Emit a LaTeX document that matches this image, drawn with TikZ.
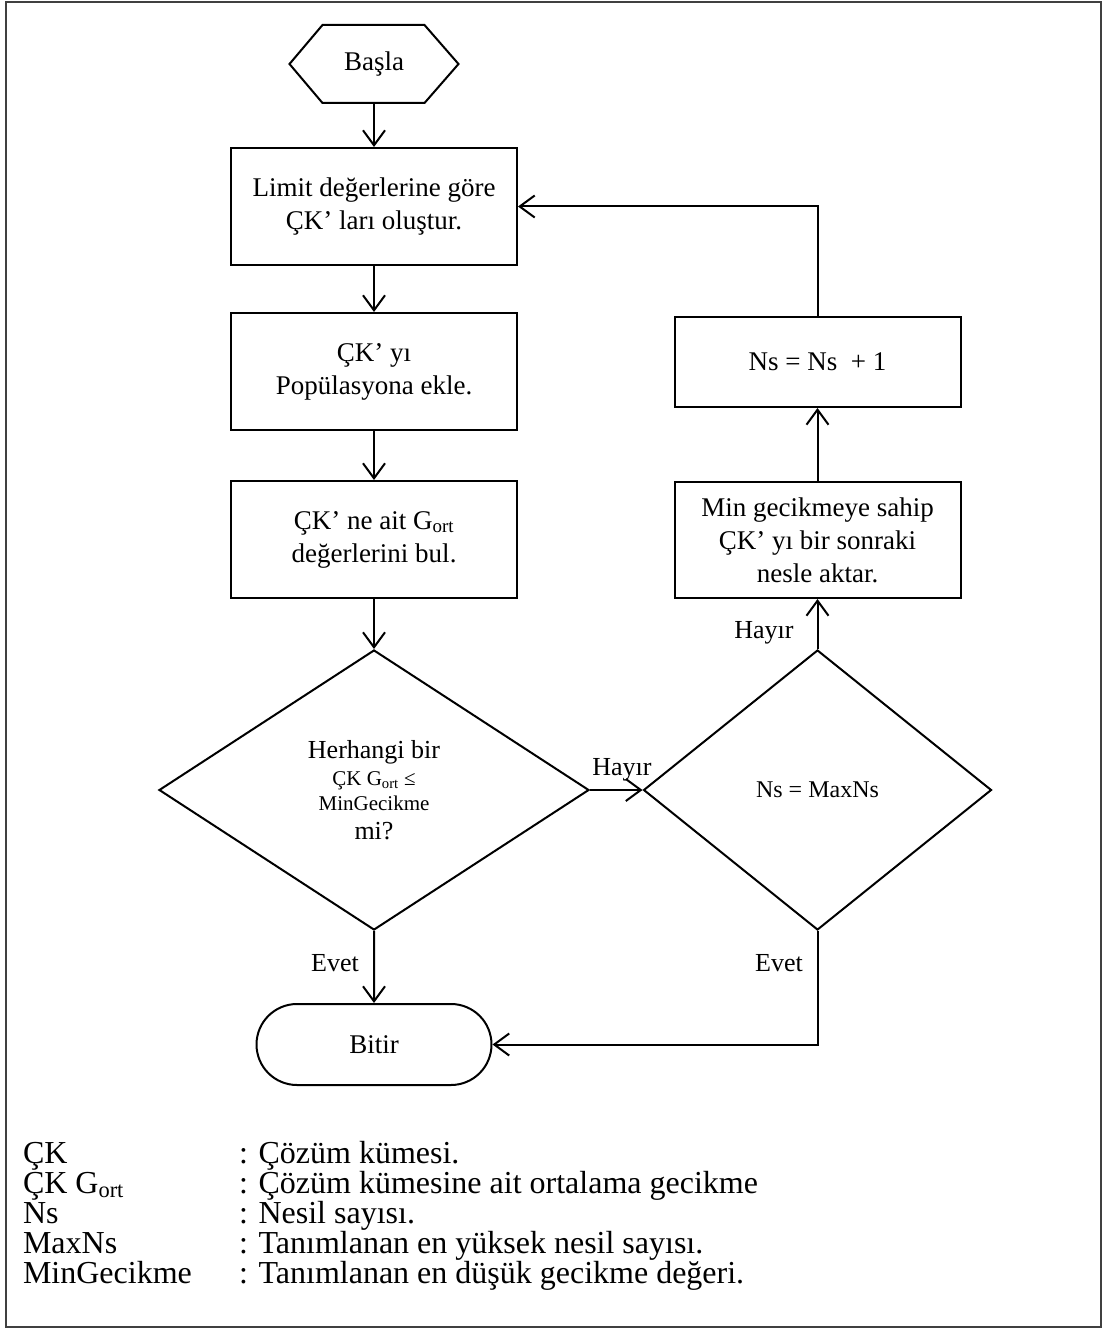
\documentclass[tikz,border=0pt]{standalone}
\usepackage{fontspec}
\setmainfont{Liberation Serif}
\usetikzlibrary{shapes.geometric,shapes.misc,arrows.meta}
\begin{document}
\begin{tikzpicture}[x=1pt,y=-1pt,
  line width=2pt,
  base/.style={font=\fontsize{27}{33}\selectfont, align=center, inner sep=0pt},
  procbox/.style={base, draw, rectangle, minimum width=286pt},
  decision/.style={base, draw, diamond, minimum height=280pt},
  flow/.style={-{Straight Barb[length=15pt,width=22pt]}},
  lbl/.style={font=\fontsize{26}{30}\selectfont, inner sep=0pt},
  legend/.style={font=\fontsize{32}{30}\selectfont, inner sep=0pt, anchor=base west}
]
\useasboundingbox (0,0) rectangle (1103,1329);
\draw[black!75, line width=2pt] (6,2) rectangle (1101,1327);

% start terminal (hexagon)
\node[base, minimum width=167pt, minimum height=76pt] (start) at (374,64) {Başla};
\draw (start.west) -- ([xshift=33pt]start.north west) -- ([xshift=-34pt]start.north east)
  -- (start.east) -- ([xshift=-34pt]start.south east) -- ([xshift=33pt]start.south west) -- cycle;

% left column
\node[procbox, minimum height=117pt] (b1) at (374,206.5) {Limit değerlerine göre\\ÇK’ ları oluştur.};
\node[procbox, minimum height=117pt] (b2) at (374,371.5) {ÇK’ yı\\Popülasyona ekle.};
\node[procbox, minimum height=117pt] (b3) at (374,539.5) {ÇK’ ne ait G\textsubscript{ort}\\değerlerini bul.};
\node[decision, minimum width=430pt, font=\fontsize{26}{33}\selectfont] (d1) at (374,790)
  {Herhangi bir\\[-6pt]{\fontsize{21}{24}\selectfont ÇK G\textsubscript{ort} ≤}\\[-8pt]{\fontsize{21}{24}\selectfont MinGecikme}\\[-4pt]mi?};
\node[base, draw, rounded rectangle, minimum width=235pt, minimum height=81pt] (e) at (374,1044.5) {Bitir};

% right column
\node[decision, minimum width=348pt] (d2) at (817.5,790) {\fontsize{24}{28}\selectfont Ns = MaxNs};
\node[procbox, minimum height=116pt] (m) at (817.5,540) {Min gecikmeye sahip\\ÇK’ yı bir sonraki\\nesle aktar.};
\node[procbox, minimum height=90pt] (ns) at (817.5,362) {Ns = Ns~~+ 1};

% connectors
\draw[flow] (start) -- (b1);
\draw[flow] (b1) -- (b2);
\draw[flow] (b2) -- (b3);
\draw[flow] (b3) -- (d1);
\draw[flow] (d1) -- (d2);
\draw[flow] (d2) -- (m);
\draw[flow] (m) -- (ns);
\draw[flow] (ns.north) |- (b1.east);
\draw[flow] (d1) -- (e);
\draw[flow] (d2.south) |- (e.east);

% branch labels
\node[lbl] (h1) at (622,770) {Hayır};
\node[lbl] (h2) at (764,633) {Hayır};
\node[lbl] (y1) at (335,963) {Evet};
\node[lbl] (y2) at (779,963) {Evet};

% legend
\foreach \k/\v/\y in {ÇK/Çözüm kümesi./1163,
                      ÇK G\textsubscript{ort}/Çözüm kümesine ait ortalama gecikme/1193,
                      Ns/Nesil sayısı./1223,
                      MaxNs/Tanımlanan en yüksek nesil sayısı./1253,
                      MinGecikme/Tanımlanan en düşük gecikme değeri./1283}{
  \node[legend] (k\y) at (22,\y) {\k};
  \node[legend] (v\y) at (238,\y) {: \v};
}
\end{tikzpicture}
\end{document}
